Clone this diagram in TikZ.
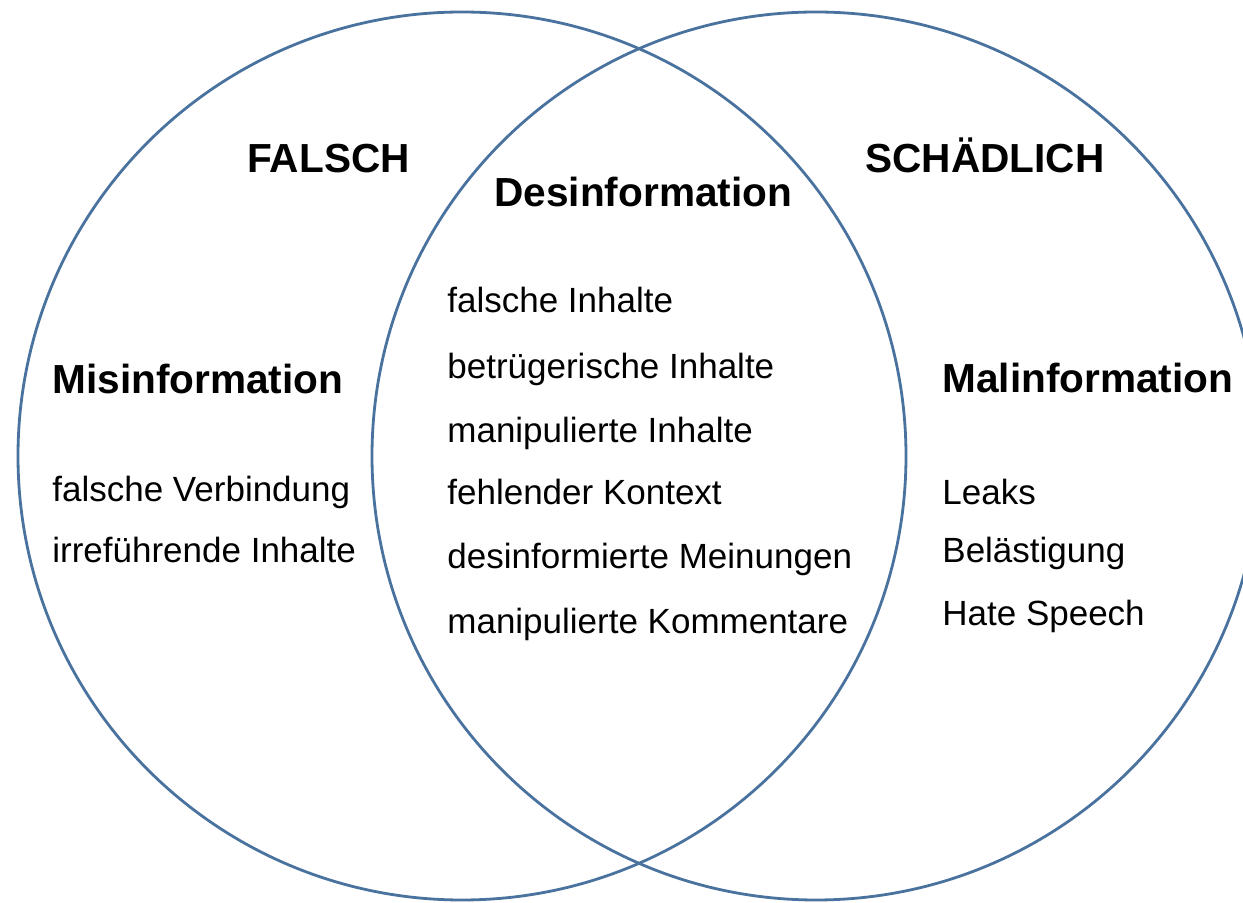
\documentclass[tikz,border=0pt]{standalone}
\usepackage{fontspec}
\setmainfont{Liberation Sans}
\definecolor{ringblue}{RGB}{74,114,158}
\tikzstyle{ring}=[draw=ringblue,line width=1.4pt]
\tikzstyle{title}=[anchor=base west,inner sep=0pt,font=\fontsize{20.3}{24}\selectfont\bfseries]
\tikzstyle{item}=[anchor=base west,inner sep=0pt,font=\fontsize{17.5}{21}\selectfont]
\begin{document}
\begin{tikzpicture}[x=0.5pt,y=-0.5pt]
		\useasboundingbox (0,0) rectangle (1243,903);
		% First we draw the circles
		\draw[ring] (462,456) circle[radius=222pt];
		\draw[ring] (816,456) circle[radius=222pt];
		% Headings
		\node[title] (falsch) at (247,173) {FALSCH};
		\node[title] (schaedlich) at (865,173) {SCHÄDLICH};
		\node[title] (des) at (494,207) {Desinformation};
		\node[title] (mis) at (52,394) {Misinformation};
		\node[title] (mal) at (942,393) {Malinformation};
		% Misinformation
		\node[item] (mis1) at (52,502) {falsche Verbindung};
		\node[item] (mis2) at (52,563) {irreführende Inhalte};
		% Desinformation
		\node[item] (des1) at (447,313) {falsche Inhalte};
		\node[item] (des2) at (447,379) {betrügerische Inhalte};
		\node[item] (des3) at (447,443) {manipulierte Inhalte};
		\node[item] (des4) at (447,505) {fehlender Kontext};
		\node[item] (des5) at (447,568) {desinformierte Meinungen};
		\node[item] (des6) at (447,633) {manipulierte Kommentare};
		% Malinformation
		\node[item] (mal1) at (942,505) {Leaks};
		\node[item] (mal2) at (942,563) {Belästigung};
		\node[item] (mal3) at (942,625) {Hate Speech};
\end{tikzpicture}
\end{document}
